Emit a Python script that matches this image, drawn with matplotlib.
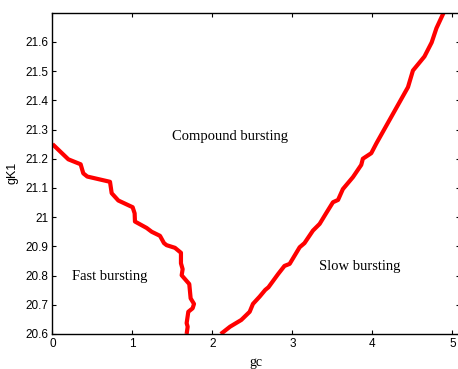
import matplotlib
matplotlib.use("Agg")
import matplotlib.pyplot as plt

# Left boundary (fast / compound)
left_gc = [0.0, 0.198, 0.352, 0.385, 0.435, 0.719, 0.740, 0.823, 1.002, 1.027, 1.031,
           1.177, 1.240, 1.344, 1.394, 1.427, 1.531, 1.606, 1.606, 1.627, 1.615, 1.710,
           1.727, 1.769, 1.752, 1.698, 1.677, 1.690, 1.677]
left_gk = [21.25, 21.198, 21.181, 21.150, 21.139, 21.121, 21.082, 21.057, 21.034, 21.013, 20.985,
           20.963, 20.950, 20.936, 20.911, 20.904, 20.895, 20.878, 20.842, 20.822, 20.801, 20.771,
           20.722, 20.703, 20.688, 20.676, 20.637, 20.625, 20.600]

# Right boundary (slow / compound)
right_gc = [2.104, 2.22, 2.36, 2.465, 2.506, 2.59, 2.66, 2.70, 2.82, 2.90, 2.965, 3.09,
            3.15, 3.256, 3.34, 3.42, 3.506, 3.57, 3.63, 3.756, 3.86, 3.88, 3.985, 4.05,
            4.444, 4.506, 4.65, 4.74, 4.80, 4.89]
right_gk = [20.600, 20.625, 20.648, 20.676, 20.703, 20.728, 20.751, 20.760, 20.805, 20.833, 20.840, 20.897,
            20.911, 20.954, 20.977, 21.013, 21.051, 21.059, 21.096, 21.137, 21.179, 21.200, 21.219, 21.253,
            21.445, 21.502, 21.550, 21.598, 21.647, 21.70]

xticks = [0, 1, 2, 3, 4, 5]
xtick_labels = ["0", "1", "2", "3", "4", "5"]
yticks = [20.6, 20.7, 20.8, 20.9, 21.0, 21.1, 21.2, 21.3, 21.4, 21.5, 21.6]
ytick_labels = ["20.6", "20.7", "20.8", "20.9", "21", "21.1", "21.2", "21.3", "21.4", "21.5", "21.6"]

region_labels = ["Compound bursting", "Fast bursting", "Slow bursting"]
region_x = [2.225, 0.715, 3.84]
region_y = [21.276, 20.796, 20.83]

fig = plt.figure(figsize=(4.58, 3.69), dpi=100)
ax = fig.add_axes([0.1146, 0.0949, 0.8897, 0.8707])

ax.plot(left_gc, left_gk, color="#ff0000", lw=3, solid_joinstyle="round", solid_capstyle="butt")
ax.plot(right_gc, right_gk, color="#ff0000", lw=3, solid_joinstyle="round", solid_capstyle="butt")

ax.set_xlim(0, 5.094)
ax.set_ylim(20.6, 21.7)
ax.set_xticks(xticks)
ax.set_xticklabels(xtick_labels, family="Liberation Sans", fontsize=8.5)
ax.set_yticks(yticks)
ax.set_yticklabels(ytick_labels, family="Liberation Sans", fontsize=8.5)
ax.tick_params(direction="in", top=True, right=True, length=3, width=0.8, pad=3)
for s in ax.spines.values():
    s.set_linewidth(1.0)

for t, x, y in zip(region_labels, region_x, region_y):
    ax.text(x, y, t, family="Liberation Serif", fontsize=10.5, ha="center", va="center")

ax.set_xlabel("gc", family="Liberation Serif", fontsize=10, labelpad=4)
ax.set_ylabel("gK1", family="Liberation Sans", fontsize=9, labelpad=5)

fig.savefig("out.png", dpi=100)
